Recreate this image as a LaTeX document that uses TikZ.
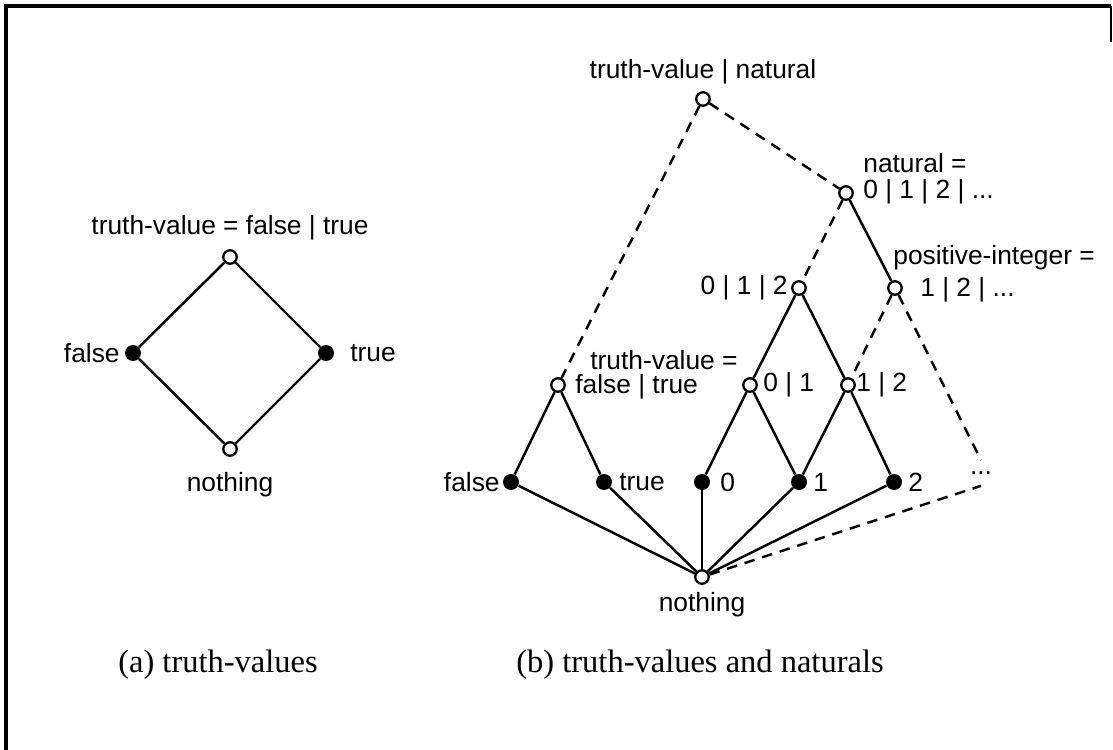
\documentclass[tikz,border=0pt]{standalone}
\usepackage{fontspec}
\setmainfont{Liberation Sans}
\newfontfamily\capfont{Liberation Serif}
\begin{document}
\begin{tikzpicture}[x=0.02cm,y=-0.02cm,
  opennode/.style={circle,draw,fill=white,line width=1.3pt,minimum size=0.27cm,inner sep=0pt},
  fullnode/.style={circle,fill=black,minimum size=0.32cm,inner sep=0pt},
  lbl/.style={inner sep=0pt,font=\fontsize{15}{17}\selectfont},
  caption/.style={inner sep=0pt,font=\capfont\fontsize{18.5}{21}\selectfont},
  solidedge/.style={line width=1.4pt},
  dashedge/.style={line width=1.4pt,dash pattern=on 6pt off 4.5pt}]
\useasboundingbox (0,0) rectangle (1113,750);
% frame
\draw[line width=2pt] (6,750) -- (6,6) -- (1111,6);
\draw[line width=0.6pt] (1111,6) -- (1111,42);

% ---------- (a) ----------
\node[opennode] (atop) at (230,257) {};
\node[fullnode] (afalse) at (133,353) {};
\node[fullnode] (atrue) at (326,353) {};
\node[opennode] (anothing) at (230,449) {};
\draw[solidedge] (atop) -- (afalse) -- (anothing) -- (atrue) -- (atop);
\node[lbl] (atopl) at (230,228) {truth-value = false | true};
\node[lbl,anchor=east] (afalsel) at (120,353) {false};
\node[lbl,anchor=west] (atruel) at (350,353) {true};
\node[lbl] (anothingl) at (230,485) {nothing};
\node[caption] (capa) at (218,665) {(a) truth-values};

% ---------- (b) ----------
\node[opennode] (top) at (703,99) {};
\node[opennode] (nat) at (846,193) {};
\node[opennode] (n012) at (799,288) {};
\node[opennode] (pos) at (895,288) {};
\node[opennode] (tv) at (558,385) {};
\node[opennode] (n01) at (750,385) {};
\node[opennode] (n12) at (848,385) {};
\node[fullnode] (bfalse) at (511,482) {};
\node[fullnode] (btrue) at (604,482) {};
\node[fullnode] (b0) at (702,482) {};
\node[fullnode] (b1) at (799,482) {};
\node[fullnode] (b2) at (894,482) {};
\node[lbl,minimum height=0.5cm] (dots) at (981,473) {...};
\node[opennode] (bnothing) at (702,577) {};

\draw[dashedge] (top) -- (nat);
\draw[dashedge] (top) -- (tv);
\draw[dashedge] (nat) -- (n012);
\draw[solidedge] (nat) -- (pos);
\draw[solidedge] (n012) -- (n01);
\draw[solidedge] (n012) -- (n12);
\draw[dashedge] (pos) -- (n12);
\draw[dashedge] (pos) -- (dots.north);
\draw[solidedge] (tv) -- (bfalse);
\draw[solidedge] (tv) -- (btrue);
\draw[solidedge] (n01) -- (b0);
\draw[solidedge] (n01) -- (b1);
\draw[solidedge] (n12) -- (b1);
\draw[solidedge] (n12) -- (b2);
\draw[solidedge] (bnothing) -- (bfalse);
\draw[solidedge] (bnothing) -- (btrue);
\draw[solidedge] (bnothing) -- (b0);
\draw[solidedge] (bnothing) -- (b1);
\draw[solidedge] (bnothing) -- (b2);
\draw[dashedge] (bnothing) -- (dots.south);

\node[lbl] (topl) at (703,72) {truth-value | natural};
\node[lbl,anchor=west] (natl1) at (863,163) {natural =};
\node[lbl,anchor=west] (natl2) at (863,192) {0 | 1 | 2 | ...};
\node[lbl,anchor=west] (posl1) at (893,258) {positive-integer =};
\node[lbl,anchor=west] (posl2) at (920,290) {1 | 2 | ...};
\node[lbl,anchor=east] (n012l) at (788,288) {0 | 1 | 2};
\node[lbl,anchor=west] (tvl1) at (590,360) {truth-value =};
\node[lbl,anchor=west] (tvl2) at (575,387) {false | true};
\node[lbl,anchor=west] (n01l) at (763,385) {0 | 1};
\node[lbl,anchor=west] (n12l) at (856,385) {1 | 2};
\node[lbl,anchor=east] (bfalsel) at (500,482) {false};
\node[lbl,anchor=west] (btruel) at (619,482) {true};
\node[lbl,anchor=west] (b0l) at (720,482) {0};
\node[lbl,anchor=west] (b1l) at (813,482) {1};
\node[lbl,anchor=west] (b2l) at (908,482) {2};
\node[lbl] (bnothingl) at (702,605) {nothing};
\node[caption] (capb) at (700,665) {(b) truth-values and naturals};
\end{tikzpicture}
\end{document}
